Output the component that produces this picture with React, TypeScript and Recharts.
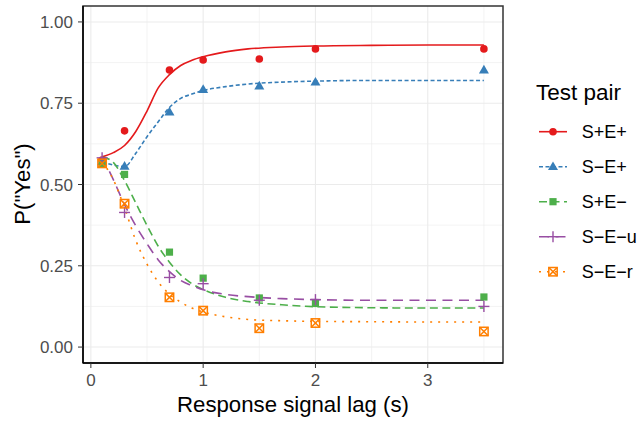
import React from 'react';
import { ComposedChart, Line, Scatter, XAxis, YAxis, CartesianGrid, ReferenceArea, Label } from 'recharts';

// observed proportions at each response-signal lag
const lags = [0.1, 0.3, 0.7, 1, 1.5, 2, 3.5];
const sPlusEPlus = [0.575, 0.665, 0.852, 0.883, 0.886, 0.917, 0.917];
const sMinusEPlus = [0.57, 0.556, 0.723, 0.792, 0.803, 0.815, 0.852];
const sPlusEMinus = [0.562, 0.531, 0.292, 0.212, 0.151, 0.134, 0.154];
const sMinusEMinusU = [0.582, 0.414, 0.214, 0.195, 0.144, 0.146, 0.125];
const sMinusEMinusR = [0.565, 0.441, 0.153, 0.112, 0.058, 0.074, 0.048];

// fitted curves
const fitLags = [0.1, 0.2, 0.3, 0.4, 0.5, 0.6, 0.7, 0.8, 0.9, 1.0, 1.2, 1.4, 1.7, 2.0, 2.5, 3.0, 3.5];
const fitSPlusEPlus = [0.585, 0.598, 0.62, 0.663, 0.726, 0.797, 0.838, 0.866, 0.882, 0.893, 0.908, 0.917, 0.923, 0.926, 0.928, 0.929, 0.929];
const fitSMinusEPlus = [0.57, 0.56, 0.555, 0.596, 0.647, 0.693, 0.737, 0.765, 0.778, 0.789, 0.801, 0.809, 0.815, 0.818, 0.82, 0.82, 0.82];
const fitSPlusEMinus = [0.585, 0.568, 0.512, 0.443, 0.374, 0.31, 0.261, 0.222, 0.195, 0.177, 0.153, 0.14, 0.13, 0.124, 0.121, 0.12, 0.12];
const fitSMinusEMinusU = [0.585, 0.515, 0.438, 0.373, 0.318, 0.268, 0.232, 0.205, 0.189, 0.176, 0.162, 0.155, 0.149, 0.146, 0.144, 0.144, 0.144];
const fitSMinusEMinusR = [0.57, 0.515, 0.428, 0.328, 0.255, 0.2, 0.163, 0.138, 0.12, 0.108, 0.093, 0.085, 0.081, 0.079, 0.078, 0.077, 0.077];

const xTicks = [0, 1, 2, 3];
const yTicks = [0, 0.25, 0.5, 0.75, 1];
const xMinor = [0.5, 1.5, 2.5, 3.5];
const yMinor = [0.125, 0.375, 0.625, 0.875];

const FONT = '"Liberation Sans", Arial, Helvetica, sans-serif';

const drawMarker = (kind: string, cx: number, cy: number, color: string) => {
  if (kind === 'circle') return <circle cx={cx} cy={cy} r={3.8} fill={color} />;
  if (kind === 'triangle')
    return <polygon points={`${cx},${cy - 5.2} ${cx - 5},${cy + 3.4} ${cx + 5},${cy + 3.4}`} fill={color} />;
  if (kind === 'square') return <rect x={cx - 3.6} y={cy - 3.6} width={7.2} height={7.2} fill={color} />;
  if (kind === 'plus')
    return (
      <g stroke={color} strokeWidth={1.4}>
        <line x1={cx - 5.5} y1={cy} x2={cx + 5.5} y2={cy} />
        <line x1={cx} y1={cy - 5.5} x2={cx} y2={cy + 5.5} />
      </g>
    );
  return (
    <g stroke={color} strokeWidth={1.5} fill="none">
      <rect x={cx - 4.2} y={cy - 4.2} width={8.4} height={8.4} />
      <line x1={cx - 4.2} y1={cy - 4.2} x2={cx + 4.2} y2={cy + 4.2} />
      <line x1={cx - 4.2} y1={cy + 4.2} x2={cx + 4.2} y2={cy - 4.2} />
    </g>
  );
};

const series = [
  { key: 'sPlusEPlus', label: 'S+E+', color: '#E41A1C', dash: undefined, marker: 'circle', pts: sPlusEPlus, fit: fitSPlusEPlus },
  { key: 'sMinusEPlus', label: 'S\u2212E+', color: '#377EB8', dash: '4 2.5', marker: 'triangle', pts: sMinusEPlus, fit: fitSMinusEPlus },
  { key: 'sPlusEMinus', label: 'S+E\u2212', color: '#4DAF4A', dash: '8 4.5', marker: 'square', pts: sPlusEMinus, fit: fitSPlusEMinus },
  { key: 'sMinusEMinusU', label: 'S\u2212E\u2212u', color: '#984EA3', dash: '10 6.5', marker: 'plus', pts: sMinusEMinusU, fit: fitSMinusEMinusU },
  { key: 'sMinusEMinusR', label: 'S\u2212E\u2212r', color: '#FF7F00', dash: '2 6', marker: 'boxcross', pts: sMinusEMinusR, fit: fitSMinusEMinusR },
];

const fitTable = fitLags.map((x, i) => {
  const row: Record<string, number> = { x };
  series.forEach((s) => (row[s.key] = s.fit[i]));
  return row;
});

const TestPairLegend = () => (
  <svg width={135} height={230} style={{ position: 'absolute', left: 505, top: 70 }}>
    <text x={31} y={30} fontSize={22.5} fontFamily={FONT} fill="#000">
      Test pair
    </text>
    {series.map((s, i) => {
      const cy = 61.7 + i * 35;
      return (
        <g key={s.key}>
          <line x1={34} x2={62} y1={cy} y2={cy} stroke={s.color} strokeWidth={1.6} strokeDasharray={s.dash} />
          {drawMarker(s.marker, 48, cy, s.color)}
          <text x={76.7} y={cy + 6.4} fontSize={18} fontFamily={FONT} fill="#000">
            {s.label}
          </text>
        </g>
      );
    })}
  </svg>
);

export default function App() {
  return (
    <div style={{ position: 'relative', width: 640, height: 421, background: '#fff' }}>
      <style>{'body{margin:0}'}</style>
      <ComposedChart width={640} height={421} data={fitTable} margin={{ top: 6, right: 137, left: 0, bottom: 0 }}>
        <CartesianGrid stroke="#EBEBEB" strokeWidth={0.6} horizontalValues={yMinor} verticalValues={xMinor} />
        <CartesianGrid stroke="#EBEBEB" strokeWidth={1.1} horizontalValues={yTicks} verticalValues={xTicks} />
        <XAxis
          type="number"
          dataKey="x"
          domain={[-0.07, 3.67]}
          ticks={xTicks}
          allowDataOverflow
          height={58}
          tickSize={5}
          tickMargin={6}
          tick={{ fill: '#4D4D4D', fontSize: 17, fontFamily: FONT }}
          tickLine={{ stroke: '#333333' }}
          axisLine={{ stroke: '#000', strokeWidth: 1.5 }}
        >
          <Label
            content={() => (
              <text x={293} y={411.7} textAnchor="middle" fontSize={22.2} fontFamily={FONT} fill="#000">
                Response signal lag (s)
              </text>
            )}
          />
        </XAxis>
        <YAxis
          type="number"
          domain={[-0.049, 1.049]}
          ticks={yTicks}
          allowDataOverflow
          width={83}
          tickSize={5}
          tickMargin={5}
          tickFormatter={(v: number) => v.toFixed(2)}
          tick={{ fill: '#4D4D4D', fontSize: 17, fontFamily: FONT }}
          tickLine={{ stroke: '#333333' }}
          axisLine={{ stroke: '#000', strokeWidth: 1.5 }}
        >
          <Label
            content={() => (
              <text
                x={22}
                y={184}
                transform="rotate(-90 22 184)"
                textAnchor="middle"
                dominantBaseline="central"
                fontSize={22.2}
                fontFamily={FONT}
                fill="#000"
              >
                P("Yes")
              </text>
            )}
          />
        </YAxis>
        <ReferenceArea x1={-0.07} x2={3.67} y1={-0.049} y2={1.049} fill="none" stroke="#333333" strokeWidth={1.5} />
        {series.map((s) => (
          <Line
            key={s.key}
            dataKey={s.key}
            type="monotone"
            stroke={s.color}
            strokeWidth={1.6}
            strokeDasharray={s.dash}
            dot={false}
            activeDot={false}
            isAnimationActive={false}
          />
        ))}
        {series.map((s) => (
          <Scatter
            key={s.key + '-pts'}
            data={lags.map((x, i) => ({ x, y: s.pts[i] }))}
            dataKey="y"
            isAnimationActive={false}
            shape={(p: any) => drawMarker(s.marker, p.cx, p.cy, s.color)}
          />
        ))}
      </ComposedChart>
      <TestPairLegend />
    </div>
  );
}
